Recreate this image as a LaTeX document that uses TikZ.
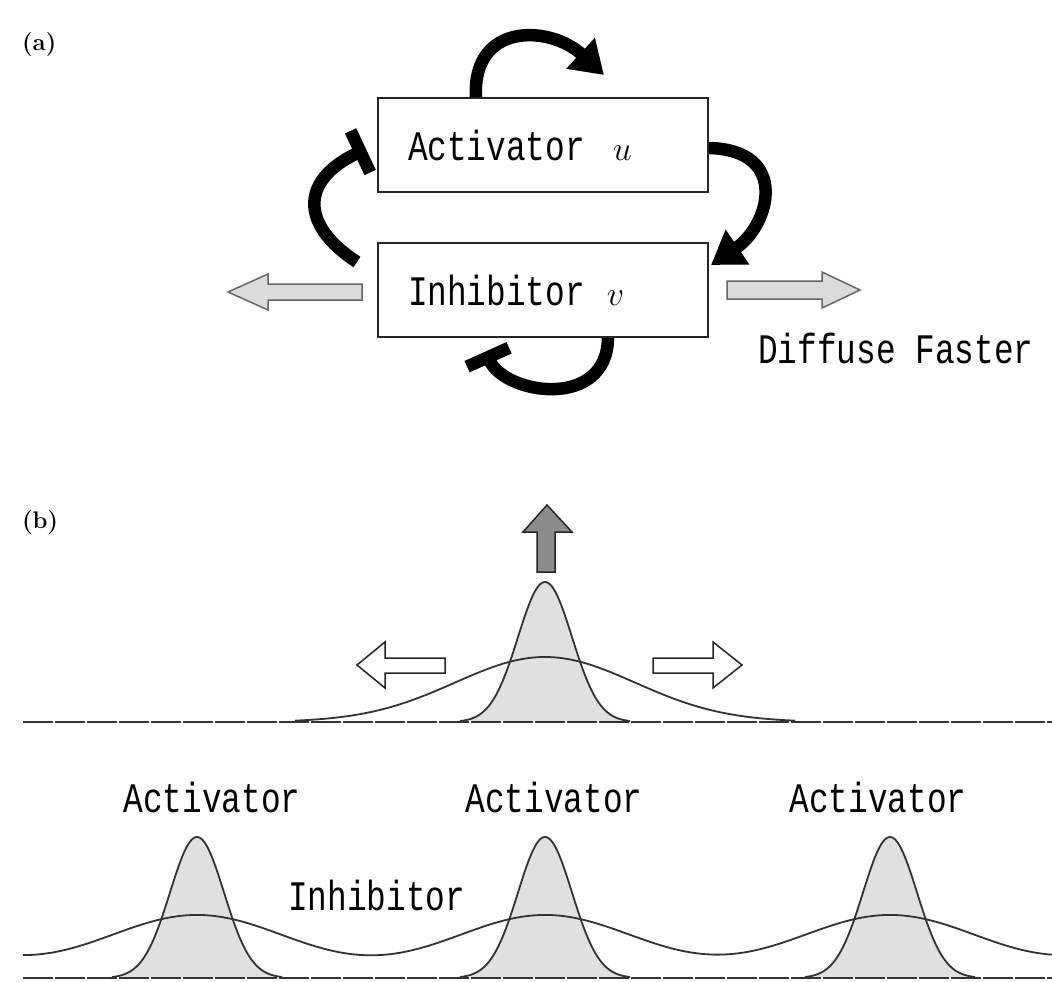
\RequirePackage{fix-cm}
\documentclass[tikz,border=0pt]{standalone}
\usepackage{fontspec}
\usetikzlibrary{arrows.meta,calc}
\newfontfamily\lab[FakeStretch=0.78]{Liberation Mono}

\begin{document}
\begin{tikzpicture}[x=1pt,y=-1pt,
  declare function={g(\t,\s)=exp(-min(0.5*(\t/\s)^2,9));},
  labeltext/.style={font=\lab\fontsize{42}{46}\selectfont, inner sep=0pt},
  panel/.style={font=\bfseries\fontsize{24}{28}\selectfont, anchor=west, inner sep=0pt},
  species/.style={draw=black!85, line width=2pt, minimum height=94pt,
    inner xsep=30pt, text width=270pt, align=left,
    font=\lab\fontsize{42}{46}\selectfont},
  loopline/.style={line width=12.5pt, black},
  promote/.style={loopline, -{Triangle[length=32pt, width=40pt]}},
  repress/.style={loopline, -{Bar[width=46pt]}},
  diffuse/.style={draw=black!60, line width=1.5pt, fill=black!14, line join=miter},
  outflow/.style={draw=black!85, line width=1.5pt, fill=white},
  growth/.style={draw=black!85, line width=1.5pt, fill=black!45},
  profile/.style={draw=black!80, line width=1.8pt},
  actfill/.style={fill=black!12},
  axis/.style={draw=black!80, line width=1.8pt, dash pattern=on 30pt off 2pt},
  caption/.style={labeltext, anchor=base}
]
\useasboundingbox (0,0) rectangle (1052,982);
\fill[white] (0,0) rectangle (1052,982);

% ---------- (a) reaction scheme ----------
\node[panel] (pa) at (22,45) {(a)};

\node[species] (act) at (543,145)
  {Activator\hspace{28pt}{\fontsize{34}{40}\selectfont$u$}};
\node[species] (inh) at (543,290)
  {Inhibitor\hspace{22pt}{\fontsize{34}{40}\selectfont$v$}};

% self-activation
\draw[promote] ($(act.north west)+(99,0)$)
  .. controls (472,22) and (550,25) .. ($(act.north east)+(-105,-22)$);
% activator promotes inhibitor
\draw[promote] ($(act.east)+(0,3)$)
  .. controls (790,150) and (770,225) .. ($(inh.north east)+(2,23)$);
% inhibitor represses activator
\draw[repress] ($(inh.west)+(-20,-28)$)
  .. controls (300,225) and (300,180) .. ($(act.west)+(-11,4)$);
% inhibitor represses itself
\draw[repress] ($(inh.south east)+(-101,0)$)
  .. controls (607,410) and (505,395) .. ($(inh.south)+(-57.5,13.5)$);

% fast diffusion of the inhibitor
\draw[diffuse] (362,284) -- (268,284) -- (268,274) -- (228,292)
  -- (268,310) -- (268,300) -- (362,300) -- cycle;
\draw[diffuse] (727,281) -- (822,281) -- (822,272) -- (860,290)
  -- (822,308) -- (822,299) -- (727,299) -- cycle;
\node[labeltext, anchor=base west] (fast) at (758,363) {Diffuse Faster};

% ---------- (b) profiles ----------
\node[panel] (pb) at (22,523) {(b)};

% single peak
\fill[actfill] plot[domain=460:630, samples=90] (\x,{722-140*g(\x-545,27)}) -- cycle;
\draw[profile] plot[domain=295:795, samples=150] (\x,{722-65*g(\x-545,90)});
\draw[profile] plot[domain=460:630, samples=90] (\x,{722-140*g(\x-545,27)});
\draw[axis] (23,722) -- (1052,722);

\draw[growth] (537,572) -- (537,532) -- (523,532) -- (547,505)
  -- (572,532) -- (555,532) -- (555,572) -- cycle;
\draw[outflow] (445,658) -- (385,658) -- (385,642) -- (357,665)
  -- (385,688) -- (385,673) -- (445,673) -- cycle;
\draw[outflow] (653,658) -- (713,658) -- (713,642) -- (742,665)
  -- (713,688) -- (713,673) -- (653,673) -- cycle;

% periodic pattern
\foreach \c in {197,545,890}{
  \fill[actfill] plot[domain=\c-85:\c+85, samples=90] (\x,{978-141*g(\x-\c,27)}) -- cycle;
}
\draw[profile] plot[domain=23:1052, samples=320]
  (\x,{978-62.9*(g(\x+150,94)+g(\x-197,94)+g(\x-545,94)+g(\x-890,94)+g(\x-1237,94))});
\foreach \c in {197,545,890}{
  \draw[profile] plot[domain=\c-85:\c+85, samples=90] (\x,{978-141*g(\x-\c,27)});
}
\draw[axis] (23,978) -- (1052,978);

\node[caption] (lab1) at (212,812) {Activator};
\node[caption] (lab2) at (554,812) {Activator};
\node[caption] (lab3) at (878,812) {Activator};
\node[labeltext, anchor=base west] (lab4) at (288,910) {Inhibitor};
\end{tikzpicture}
\end{document}
